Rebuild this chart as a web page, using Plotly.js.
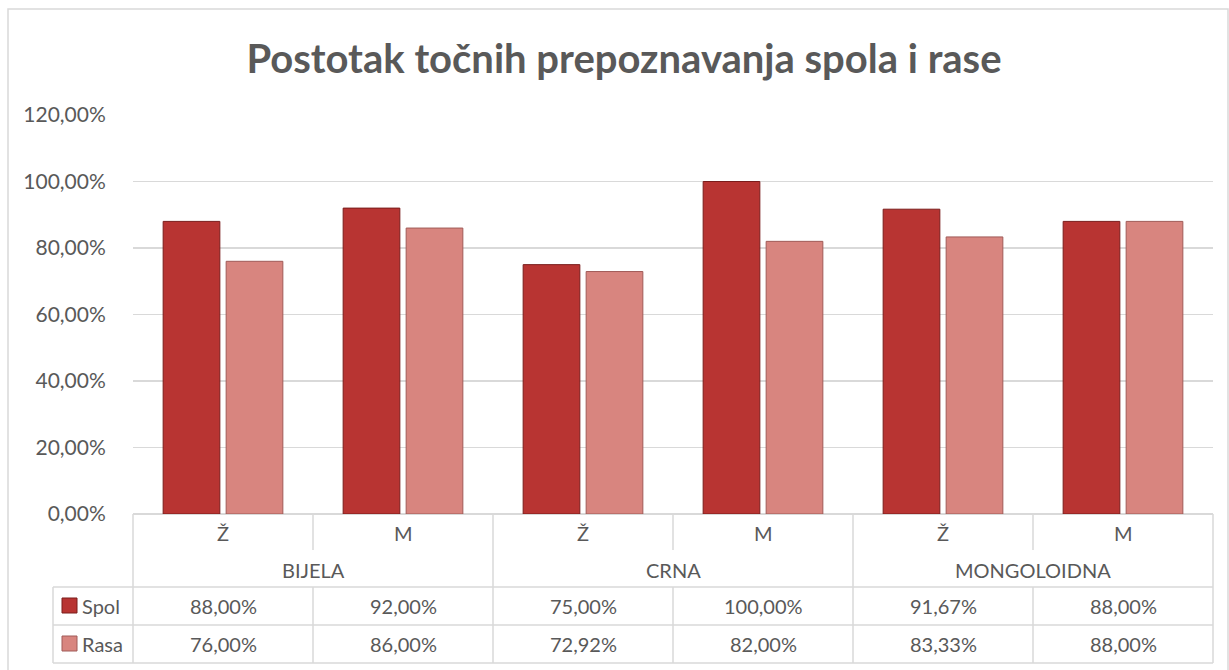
<!DOCTYPE html>
<html>
<head>
<meta charset="utf-8">
<script src="https://cdn.plot.ly/plotly-3.0.1.min.js"></script>
<style>html,body{margin:0;padding:0;background:#fff;}#chart{width:1229px;height:670px;}</style>
</head>
<body>
<div id="chart"></div>
<script>
// ---- data ----
const sexLabels = ['Ž', 'M', 'Ž', 'M', 'Ž', 'M'];
const groupLabels = ['BIJELA', 'CRNA', 'MONGOLOIDNA'];
const seriesNames = ['Spol', 'Rasa'];
const spolValues = [0.88, 0.92, 0.75, 1.00, 0.9167, 0.88];
const rasaValues = [0.76, 0.86, 0.7292, 0.82, 0.8333, 0.88];
const chartTitle = 'Postotak točnih prepoznavanja spola i rase';

// ---- layout geometry (pixels) ----
const W = 1229, H = 670;
const L = 133, R = 1213, T = 115, B = 514;
const px2x = p => (p - L) / (R - L);
const px2y = p => (B - p) / (B - T);
const grey = '#d9d9d9';
const txt = '#595959';
const font = 'Lato, "Open Sans", sans-serif';
const colors = ['#B83432', '#D8857F'];
const edge = ['#7a1c1b', '#a05b58'];

const xs = sexLabels.map((_, i) => i);
const fmt = v => (v * 100).toFixed(2).replace('.', ',') + '%';

const traces = [spolValues, rasaValues].map((vals, k) => ({
  type: 'bar', x: xs, y: vals, name: seriesNames[k],
  marker: {color: colors[k], line: {color: edge[k], width: 1}},
  hoverinfo: 'skip'
}));

const shapes = [];
const line = (x0, y0, x1, y1) => shapes.push({type: 'line', xref: 'paper', yref: 'paper',
  x0: px2x(x0), y0: px2y(y0), x1: px2x(x1), y1: px2y(y1), line: {color: grey, width: 1.5}});

// outer chart border
shapes.push({type: 'rect', xref: 'paper', yref: 'paper', x0: px2x(8), y0: px2y(690), x1: px2x(1228), y1: px2y(9),
  line: {color: grey, width: 1.5}, fillcolor: 'rgba(0,0,0,0)', layer: 'below'});

const rowTop = 514, rowSex = 552, rowGrp = 587, rowSpol = 625, rowRasa = 663;
const colW = (R - L) / sexLabels.length;
for (let i = 0; i <= sexLabels.length; i++) {
  const x = L + i * colW;
  if (i % 2 === 0) line(x, rowTop, x, rowRasa);
  else { line(x, rowTop, x, rowSex - 2); line(x, rowGrp, x, rowRasa); }
}
line(53, rowGrp, R, rowGrp);
line(53, rowSpol, R, rowSpol);
line(53, rowRasa, R, rowRasa);
line(53, rowGrp, 53, rowRasa);

// legend keys
[rowGrp, rowSpol].forEach((y0, k) => {
  shapes.push({type: 'rect', xref: 'paper', yref: 'paper', x0: px2x(62), x1: px2x(77),
    y0: px2y(y0 + 26), y1: px2y(y0 + 11), fillcolor: colors[k], line: {color: edge[k], width: 1}});
});

const annotations = [];
const ann = (x, xref, y, text, extra) => annotations.push(Object.assign({x, xref, y: px2y(y), yref: 'paper',
  text, showarrow: false, font: {family: font, size: 20, color: txt}, xanchor: 'center', yanchor: 'middle'}, extra || {}));

sexLabels.forEach((s, i) => ann(i, 'x', 533, s));
groupLabels.forEach((g, j) => ann(2 * j + 0.5, 'x', 570, g));
spolValues.forEach((v, i) => ann(i, 'x', 606, fmt(v)));
rasaValues.forEach((v, i) => ann(i, 'x', 644, fmt(v)));
seriesNames.forEach((n, k) => ann(px2x(80), 'paper', 606 + 38 * k, n, {xanchor: 'left'}));

const layout = {
  width: W, height: H,
  margin: {l: L, r: W - R, t: T, b: H - B, pad: 0},
  paper_bgcolor: '#fff', plot_bgcolor: '#fff',
  separators: ', ',
  title: {text: '<b>' + chartTitle + '</b>', x: 624 / W, xref: 'container', xanchor: 'center',
    y: 1 - 59 / H, yref: 'container', yanchor: 'middle', font: {family: font, size: 40, color: txt}},
  showlegend: false,
  barmode: 'group', bargap: 0.3, bargroupgap: 0.1,
  xaxis: {range: [-0.5, sexLabels.length - 0.5], showticklabels: false, showgrid: false, zeroline: false,
    showline: false, ticks: '', fixedrange: true},
  yaxis: {range: [0, 1.2], dtick: 0.2, tickformat: '.2%', showgrid: true, gridcolor: grey, gridwidth: 1.5,
    zeroline: true, zerolinecolor: grey, zerolinewidth: 1.5, showline: false,
    ticks: 'outside', ticklen: 22, tickcolor: 'rgba(0,0,0,0)',
    tickfont: {family: font, size: 21, color: txt}, fixedrange: true},
  shapes, annotations
};

Plotly.newPlot('chart', traces, layout, {displayModeBar: false, staticPlot: true});
</script>
</body>
</html>
